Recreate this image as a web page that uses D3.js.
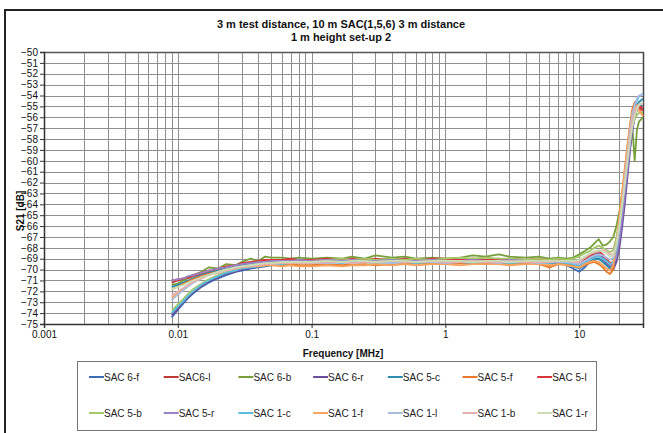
<!DOCTYPE html>
<html><head><meta charset="utf-8">
<script src="https://cdn.jsdelivr.net/npm/d3@7"></script>
<style>
html,body{margin:0;padding:0;background:#fff;}
svg{display:block;font-family:"Liberation Sans",Arial,sans-serif;}
</style></head>
<body><svg id="c" width="663" height="433"></svg>
<script>
const titleLines = ["3 m test distance, 10 m SAC(1,5,6) 3 m distance", "1 m height set-up 2"];
const xLabel = "Frequency [MHz]";
const yLabel = "S21 [dB]";
const xTicks = [0.001, 0.01, 0.1, 1, 10];
const xTickLabels = ["0.001", "0.01", "0.1", "1", "10"];
const yTicks = d3.range(-75, -49, 1);

const freq = [0.009,0.01,0.011,0.012,0.013,0.015,0.017,0.02,0.023,0.027,0.03,0.035,0.04,0.045,0.05,0.06,0.07,0.08,
  0.1,0.13,0.17,0.2,0.25,0.3,0.4,0.5,0.6,0.8,1,1.3,1.6,2,2.5,3,4,5,6,7,
  8,9,10,11,12,13,14,15,16,17,18,19,20,21,22,23,24,25,26,27,28,30];

const names = ["SAC 6-f","SAC6-l","SAC 6-b","SAC 6-r","SAC 5-c","SAC 5-f","SAC 5-l","SAC 5-b","SAC 5-r","SAC 1-c","SAC 1-f","SAC 1-l","SAC 1-b","SAC 1-r"];
const colors = ["#3D6CB4","#C23A35","#77A03B","#6A4C9C","#2E8CAE","#E8792A","#D6363A","#A5C86A","#9A84C4","#5BBEDC","#F8A35E","#A8BDE0","#E4AFAE","#CADDB4"];

const sac6f = [-74.4,-73.7,-73.1,-72.6,-72.2,-71.6,-71.2,-70.8,-70.5,-70.2,-70.1,-69.9,-69.8,-69.7,-69.6,-69.5,-69.5,-69.4,
  -69.4,-69.3,-69.3,-69.2,-69.3,-69.2,-69.2,-69.3,-69.2,-69.2,-69.3,-69.2,-69.3,-69.2,-69.3,-69.2,-69.3,-69.3,-69.4,-69.4,
  -69.6,-69.9,-70.2,-69.8,-69.3,-69.0,-69.0,-69.2,-69.5,-69.7,-69.8,-69.0,-67.5,-65.5,-63.3,-61.0,-58.8,-57.0,-55.9,-55.3,-55.0,-54.8];
const sac6l = [-71.2,-71.0,-70.9,-70.8,-70.6,-70.4,-70.2,-70.0,-69.8,-69.6,-69.5,-69.4,-69.3,-69.2,-69.2,-69.1,-69.1,-69.1,
  -69.1,-69.2,-69.1,-69.1,-69.2,-69.1,-69.0,-69.1,-69.1,-69.0,-69.1,-69.1,-69.0,-69.1,-69.1,-69.0,-69.1,-69.2,-69.2,-69.1,
  -69.3,-69.4,-69.6,-69.2,-68.8,-68.6,-68.5,-68.9,-69.2,-69.5,-69.6,-68.6,-66.8,-64.8,-62.6,-60.4,-58.3,-56.6,-55.6,-55.2,-55.1,-55.4];
const sac6b = [-71.4,-71.3,-71.0,-70.7,-70.5,-70.2,-69.8,-69.9,-69.5,-69.6,-69.3,-69.0,-69.2,-68.8,-68.9,-68.9,-69.0,-68.9,
  -69.0,-68.9,-69.0,-68.8,-69.0,-68.7,-68.9,-68.8,-69.0,-68.9,-69.0,-68.9,-68.7,-68.8,-68.6,-68.8,-68.9,-68.8,-69.0,-68.9,
  -69.0,-68.9,-68.6,-68.3,-68.0,-67.6,-67.2,-67.8,-67.7,-67.4,-67.0,-66.0,-64.6,-63.0,-61.5,-60.0,-58.5,-57.0,-60.0,-57.2,-56.4,-56.0];
const sac6r = [-74.2,-73.6,-73.0,-72.5,-72.1,-71.5,-71.1,-70.7,-70.4,-70.2,-70.0,-69.8,-69.7,-69.6,-69.5,-69.4,-69.4,-69.3,
  -69.3,-69.2,-69.2,-69.1,-69.2,-69.1,-69.1,-69.2,-69.1,-69.1,-69.2,-69.1,-69.2,-69.1,-69.2,-69.1,-69.2,-69.2,-69.3,-69.3,
  -69.4,-69.6,-69.8,-69.4,-69.0,-68.7,-68.5,-68.9,-69.4,-69.9,-70.0,-69.3,-68.0,-66.0,-63.8,-61.4,-59.0,-57.2,-56.0,-55.3,-54.9,-54.7];
const sac5c = [-71.6,-71.4,-71.2,-71.0,-70.8,-70.5,-70.3,-70.1,-69.9,-69.7,-69.6,-69.5,-69.4,-69.3,-69.3,-69.2,-69.2,-69.2,
  -69.2,-69.3,-69.2,-69.2,-69.3,-69.2,-69.2,-69.3,-69.2,-69.2,-69.2,-69.3,-69.2,-69.2,-69.3,-69.2,-69.3,-69.3,-69.3,-69.3,
  -69.5,-69.7,-69.9,-69.6,-69.3,-69.1,-69.0,-69.3,-69.6,-69.9,-69.6,-68.5,-66.6,-64.4,-62.2,-60.0,-57.9,-56.3,-55.3,-54.9,-54.6,-54.3];
const sac5f = [-71.8,-71.6,-71.3,-71.1,-70.9,-70.6,-70.4,-70.2,-70.0,-69.9,-69.8,-69.7,-69.6,-69.6,-69.5,-69.6,-69.5,-69.6,
  -69.6,-69.5,-69.6,-69.5,-69.5,-69.6,-69.5,-69.5,-69.4,-69.5,-69.4,-69.4,-69.5,-69.4,-69.4,-69.5,-69.4,-69.5,-69.8,-69.5,
  -69.5,-69.6,-69.8,-69.6,-69.4,-69.3,-69.5,-69.8,-70.2,-70.4,-70.0,-67.5,-65.0,-62.8,-60.6,-58.5,-56.6,-55.2,-54.6,-54.9,-55.3,-55.8];
const sac5l = [-71.0,-70.9,-70.8,-70.7,-70.5,-70.3,-70.1,-69.9,-69.7,-69.6,-69.4,-69.3,-69.2,-69.1,-69.1,-69.1,-69.0,-69.1,
  -69.1,-69.0,-69.1,-69.0,-69.1,-69.0,-69.1,-69.0,-69.1,-69.0,-69.0,-69.1,-69.0,-69.1,-69.0,-69.1,-69.1,-69.0,-69.1,-69.1,
  -69.2,-69.3,-69.5,-69.1,-68.7,-68.4,-68.3,-68.6,-69.0,-69.4,-69.3,-68.3,-66.5,-64.3,-62.0,-59.8,-57.8,-56.3,-55.5,-55.1,-55.0,-55.2];
const sac5b = [-73.8,-73.2,-72.7,-72.2,-71.8,-71.3,-70.9,-70.5,-70.2,-70.0,-69.8,-69.6,-69.5,-69.4,-69.3,-69.3,-69.2,-69.2,
  -69.2,-69.1,-69.0,-69.1,-69.0,-69.1,-69.0,-69.1,-69.0,-69.1,-69.0,-68.9,-69.0,-68.9,-69.0,-69.0,-69.1,-69.0,-69.1,-69.0,
  -69.1,-69.0,-68.8,-68.5,-68.3,-68.0,-67.8,-68.0,-68.2,-68.4,-68.2,-67.0,-65.3,-63.4,-61.5,-59.6,-58.0,-56.8,-56.2,-55.8,-55.6,-55.6];
const sac5r = [-71.0,-70.9,-70.8,-70.6,-70.5,-70.3,-70.1,-69.9,-69.8,-69.6,-69.5,-69.4,-69.3,-69.3,-69.2,-69.2,-69.2,-69.1,
  -69.2,-69.1,-69.2,-69.1,-69.2,-69.2,-69.1,-69.2,-69.2,-69.1,-69.2,-69.2,-69.1,-69.2,-69.2,-69.1,-69.2,-69.2,-69.2,-69.2,
  -69.3,-69.5,-69.6,-69.3,-69.0,-68.8,-68.7,-69.0,-69.3,-69.6,-69.6,-68.8,-67.2,-65.2,-63.0,-60.8,-58.6,-56.9,-55.8,-55.2,-54.9,-54.7];
const sac1c = [-74.0,-73.4,-72.9,-72.4,-72.0,-71.4,-71.0,-70.6,-70.3,-70.1,-69.9,-69.8,-69.7,-69.6,-69.5,-69.5,-69.4,-69.4,
  -69.4,-69.3,-69.4,-69.3,-69.3,-69.4,-69.3,-69.3,-69.4,-69.3,-69.3,-69.3,-69.4,-69.3,-69.3,-69.4,-69.3,-69.4,-69.4,-69.3,
  -69.4,-69.5,-69.7,-69.4,-69.1,-68.9,-68.8,-69.0,-69.2,-69.5,-69.3,-68.2,-66.2,-64.0,-61.7,-59.4,-57.3,-55.8,-55.0,-54.5,-54.1,-53.8];
const sac1f = [-72.6,-72.2,-71.8,-71.5,-71.2,-70.8,-70.5,-70.2,-70.0,-69.9,-69.8,-69.7,-69.7,-69.6,-69.6,-69.7,-69.6,-69.7,
  -69.7,-69.6,-69.7,-69.6,-69.6,-69.5,-69.6,-69.5,-69.6,-69.5,-69.5,-69.6,-69.5,-69.5,-69.5,-69.6,-69.5,-69.5,-69.6,-69.5,
  -69.6,-69.7,-69.8,-69.5,-69.3,-69.2,-69.3,-69.6,-69.9,-70.1,-69.6,-67.6,-65.2,-62.9,-60.7,-58.6,-56.8,-55.6,-55.0,-55.1,-55.4,-55.9];
const sac1l = [-72.8,-72.3,-71.9,-71.5,-71.2,-70.8,-70.5,-70.2,-70.0,-69.8,-69.7,-69.6,-69.5,-69.5,-69.4,-69.4,-69.4,-69.4,
  -69.4,-69.4,-69.3,-69.4,-69.3,-69.3,-69.4,-69.3,-69.3,-69.3,-69.4,-69.3,-69.3,-69.3,-69.4,-69.3,-69.3,-69.4,-69.3,-69.3,
  -69.3,-69.4,-69.5,-69.2,-68.9,-68.7,-68.6,-68.7,-68.9,-69.1,-68.9,-67.9,-66.0,-63.8,-61.5,-59.3,-57.2,-55.7,-54.8,-54.3,-54.0,-53.9];
const sac1b = [-72.4,-72.0,-71.7,-71.4,-71.1,-70.8,-70.5,-70.3,-70.1,-69.9,-69.8,-69.7,-69.6,-69.5,-69.5,-69.4,-69.4,-69.4,
  -69.4,-69.3,-69.3,-69.4,-69.3,-69.3,-69.2,-69.3,-69.3,-69.2,-69.3,-69.3,-69.2,-69.3,-69.3,-69.2,-69.3,-69.3,-69.3,-69.2,
  -69.2,-69.3,-69.3,-68.9,-68.6,-68.4,-68.3,-68.2,-68.3,-68.6,-68.6,-67.6,-65.8,-63.7,-61.6,-59.5,-57.6,-56.2,-55.4,-55.0,-54.8,-54.8];
const sac1r = [-71.8,-71.6,-71.4,-71.2,-71.0,-70.7,-70.5,-70.2,-70.0,-69.8,-69.7,-69.6,-69.5,-69.4,-69.4,-69.3,-69.3,-69.3,
  -69.3,-69.2,-69.3,-69.2,-69.2,-69.3,-69.2,-69.2,-69.3,-69.2,-69.2,-69.2,-69.3,-69.2,-69.2,-69.3,-69.2,-69.2,-69.2,-69.2,
  -69.2,-69.2,-69.1,-68.8,-68.5,-68.3,-68.2,-68.3,-68.5,-68.8,-68.7,-67.7,-66.0,-64.0,-62.0,-60.0,-58.2,-56.8,-55.9,-55.3,-54.9,-54.6];

const seriesValues = [sac6f,sac6l,sac6b,sac6r,sac5c,sac5f,sac5l,sac5b,sac5r,sac1c,sac1f,sac1l,sac1b,sac1r];

const svg = d3.select("#c");
const plot = {left: 44, right: 643, top: 52, bottom: 324};

// outer chart frame
svg.append("rect").attr("x", 5).attr("y", 10).attr("width", 720).attr("height", 500)
  .attr("fill", "none").attr("stroke", "#222").attr("stroke-width", 2);

const x = d3.scaleLog().domain([0.001, 30]).range([plot.left, plot.right]);
const y = d3.scaleLinear().domain([-75, -50]).range([plot.bottom, plot.top]);

// grid
const minor = [];
[0.001, 0.01, 0.1, 1, 10].forEach(d => { for (let k = 1; k <= 9; k++) { const v = d * k; if (v <= 30 && v > 0.001) minor.push(v); } });
svg.append("g").selectAll("line").data(minor).join("line")
  .attr("x1", d => Math.round(x(d)) + 0.5).attr("x2", d => Math.round(x(d)) + 0.5)
  .attr("y1", plot.top).attr("y2", plot.bottom)
  .attr("stroke", "#8f8f8f").attr("stroke-width", 1);
svg.append("g").selectAll("line").data(yTicks.filter(v => v > -75)).join("line")
  .attr("x1", plot.left).attr("x2", plot.right)
  .attr("y1", d => Math.round(y(d)) + 0.5).attr("y2", d => Math.round(y(d)) + 0.5)
  .attr("stroke", "#8f8f8f").attr("stroke-width", 1);

// plot border top/right
svg.append("line").attr("x1", plot.left).attr("x2", plot.right + 0.5).attr("y1", plot.top + 0.5).attr("y2", plot.top + 0.5)
  .attr("stroke", "#555").attr("stroke-width", 1.5);
svg.append("line").attr("x1", plot.right + 0.5).attr("x2", plot.right + 0.5).attr("y1", plot.top).attr("y2", plot.bottom)
  .attr("stroke", "#444").attr("stroke-width", 1.5);

// series
const line = d3.line().x(d => x(d[0])).y(d => y(d[1])).curve(d3.curveLinear);
const gS = svg.append("g");
seriesValues.forEach((vals, i) => {
  gS.append("path").datum(freq.map((f, j) => [f, vals[j]]))
    .attr("d", line).attr("fill", "none").attr("stroke", colors[i])
    .attr("stroke-width", 1.8).attr("stroke-linejoin", "round");
});

// axes
const yAxis = svg.append("g").attr("transform", `translate(${plot.left},0)`)
  .call(d3.axisLeft(y).tickValues(yTicks).tickSize(4).tickPadding(2).tickFormat(d3.format("d")));
const xAxis = svg.append("g").attr("transform", `translate(0,${plot.bottom})`)
  .call(d3.axisBottom(x).tickValues(xTicks).tickSize(4).tickPadding(3).tickFormat((d, i) => xTickLabels[i]));
[yAxis, xAxis].forEach(a => {
  a.select(".domain").attr("stroke", "#333").attr("stroke-width", 1.5);
  a.selectAll(".tick line").attr("stroke", "#333");
  a.selectAll("text").attr("fill", "#111").style("font-size", "10px").style("font-family", "'Liberation Sans',Arial,sans-serif");
});

// titles
svg.append("g").selectAll("text").data(titleLines).join("text")
  .attr("x", 341).attr("y", (d, i) => 28 + i * 12.5).attr("text-anchor", "middle")
  .style("font-size", "11px").style("font-weight", "bold").attr("fill", "#111").text(d => d);

svg.append("text").attr("x", 343).attr("y", 357).attr("text-anchor", "middle")
  .style("font-size", "10px").style("font-weight", "bold").attr("fill", "#111").text(xLabel);
svg.append("text").attr("transform", "translate(24,211) rotate(-90)").attr("text-anchor", "middle")
  .style("font-size", "10px").style("font-weight", "bold").attr("fill", "#111").text(yLabel);

// legend
svg.append("rect").attr("x", 77.5).attr("y", 361.5).attr("width", 519).attr("height", 69)
  .attr("fill", "#fff").attr("stroke", "#777").attr("stroke-width", 1);
const lg = svg.append("g").selectAll("g").data(names).join("g")
  .attr("transform", (d, i) => `translate(${89 + (i % 7) * 74.7},${i < 7 ? 377 : 413})`);
lg.append("line").attr("x1", 0).attr("x2", 15).attr("y1", 0).attr("y2", 0)
  .attr("stroke", (d, i) => colors[i]).attr("stroke-width", 2);
lg.append("text").attr("x", 15).attr("y", 3.5).style("font-size", "10px").attr("fill", "#222").text(d => d);
</script></body></html>
